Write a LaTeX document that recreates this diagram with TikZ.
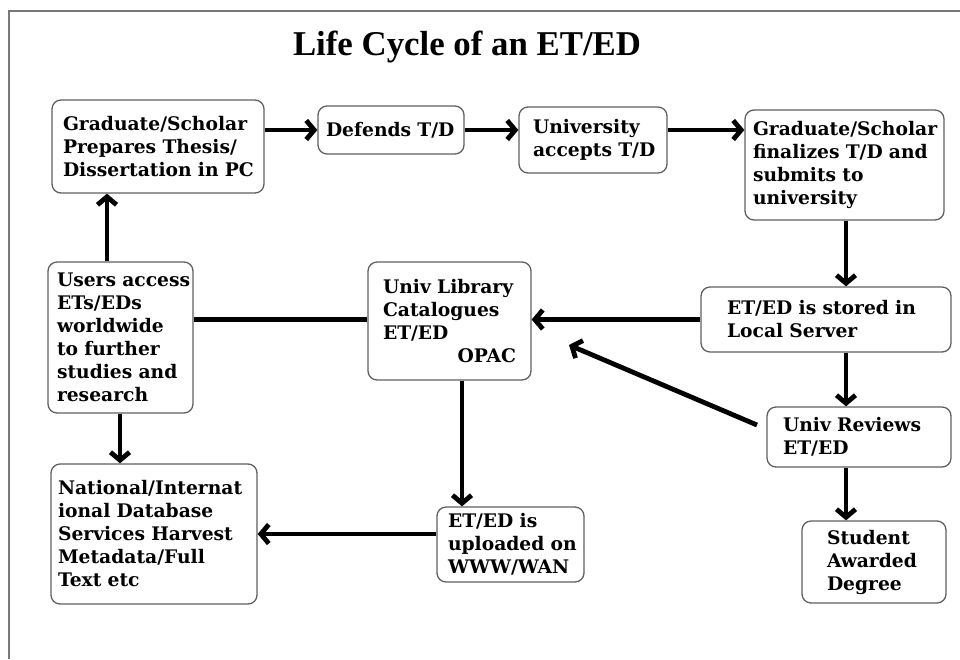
\documentclass[tikz,border=0pt]{standalone}
\usepackage{fontspec}
\setmainfont{DejaVu Serif}
\newfontfamily\titlefont{Liberation Serif}
\usetikzlibrary{arrows.meta}
\definecolor{boxgray}{RGB}{95,95,95}
\definecolor{framegray}{RGB}{120,120,120}
\newcommand{\boxfont}{\fontsize{18.7}{23}\selectfont\bfseries}
\begin{document}
\begin{tikzpicture}[x=1pt,y=-1pt,
  box/.style={draw=boxgray, line width=1.3pt, rounded corners=9pt, align=left,
              inner ysep=0pt, font=\boxfont, anchor=center,
              execute at begin node={\hyphenpenalty=10000\exhyphenpenalty=10000\hfuzz=20pt}},
  arr/.style={line width=4.8pt, -{Straight Barb[length=8pt,width=19pt]}},
  plainline/.style={line width=4.8pt}
]
\useasboundingbox (0,0) rectangle (960,659);
\draw[framegray, line width=1.5pt] (9,659) -- (9,11) -- (960,11);

\node[font=\titlefont\fontsize{34.8}{38}\selectfont\bfseries, anchor=base] (title) at (467,55) {Life Cycle of an ET/ED};

\node[box, text width=190pt, inner xsep=11pt, minimum height=93pt] (a) at (158,146.5)
  {\mbox{Graduate/Scholar}\\\mbox{Prepares Thesis/}\\\mbox{Dissertation in PC}};
\node[box, text width=130pt, inner xsep=8pt, minimum height=48pt] (b) at (391,130)
  {\mbox{Defends T/D}};
\node[box, text width=120pt, inner xsep=14pt, minimum height=66pt] (c) at (593,140)
  {\mbox{University}\\\mbox{accepts T/D}};
\node[box, text width=183pt, inner xsep=8pt, minimum height=110pt] (d) at (844.5,165)
  {\mbox{Graduate/Scholar}\\\mbox{finalizes T/D and}\\\mbox{submits to}\\\mbox{university}};
\node[box, text width=198pt, inner xsep=26pt, minimum height=65pt] (e) at (826,319.5)
  {\mbox{ET/ED is stored in}\\\mbox{Local Server}};
\node[box, text width=133pt, inner xsep=15pt, minimum height=118pt] (f) at (449.5,321)
  {\mbox{Univ Library}\\\mbox{Catalogues}\\\mbox{ET/ED}\\\hspace*{\fill}OPAC};
\node[box, text width=127pt, inner xsep=9pt, minimum height=151pt] (g) at (120.5,337.5)
  {\mbox{Users access}\\\mbox{ETs/EDs}\\\mbox{worldwide}\\\mbox{to further}\\\mbox{studies and}\\\mbox{research}};
\node[box, text width=152pt, inner xsep=16pt, minimum height=60pt] (h) at (859,437)
  {\mbox{Univ Reviews}\\\mbox{ET/ED}};
\node[box, text width=94pt, inner xsep=25pt, minimum height=82pt] (i) at (874,562)
  {\mbox{Student}\\\mbox{Awarded}\\\mbox{Degree}};
\node[box, text width=192pt, inner xsep=7pt, minimum height=140pt] (j) at (154,534)
  {\mbox{National/Internat}\\\mbox{ional Database}\\\mbox{Services Harvest}\\\mbox{Metadata/Full}\\\mbox{Text etc}};
\node[box, text width=125pt, inner xsep=11pt, minimum height=75pt] (k) at (510.5,544.5)
  {\mbox{ET/ED is}\\\mbox{uploaded on}\\\mbox{WWW/WAN}};

\coordinate (x846) at (846,0);
\coordinate (x107) at (107,0);
\coordinate (x120) at (120,0);
\coordinate (x462) at (462,0);
\coordinate (hs) at (757,425);
\coordinate (ft) at (569,345);

\draw[arr] (a.east |- b.west) -- (b.west);
\draw[arr] (b.east) -- (c.west |- b.east);
\draw[arr] (c.east |- b.east) -- (d.west |- b.east);
\draw[arr] (d.south -| x846) -- (e.north -| x846);
\draw[arr] (e.west) -- (f.east |- e.west);
\draw[plainline] (f.west |- e.west) -- (g.east |- e.west);
\draw[arr] (g.north -| x107) -- (a.south -| x107);
\draw[arr] (g.south -| x120) -- (j.north -| x120);
\draw[arr] (f.south -| x462) -- (k.north -| x462);
\draw[arr] (k.west |- j.east) -- (j.east);
\draw[arr] (e.south -| x846) -- (h.north -| x846);
\draw[arr] (h.south -| x846) -- (i.north -| x846);
\draw[arr] (hs) -- (ft);
\end{tikzpicture}
\end{document}
